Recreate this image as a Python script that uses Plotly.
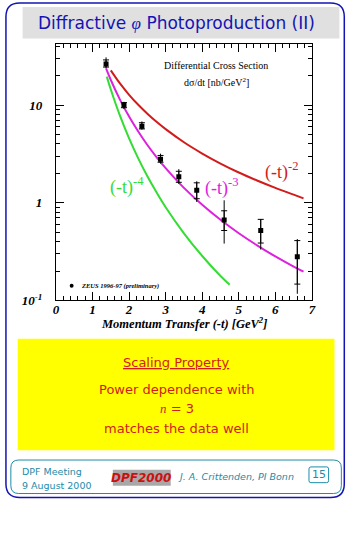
import plotly.graph_objects as go

W, H = 363, 535

# ---- data ----
t_data = [1.37, 1.86, 2.35, 2.86, 3.36, 3.85, 4.60, 5.60, 6.60]
xsec = [26.3, 10.0, 6.06, 2.79, 1.85, 1.34, 0.667, 0.52, 0.28]
tot_hi = [30.8, 10.8, 6.8, 3.18, 2.21, 1.66, 1.06, 0.676, 0.425]
tot_lo = [23.8, 9.1, 5.6, 2.52, 1.56, 1.02, 0.382, 0.332, 0.117]
stat_hi = [29.0, 10.6, 6.6, 3.05, 2.10, 1.60, 0.828, 0.676, 0.41]
stat_lo = [24.5, 9.4, 5.7, 2.60, 1.62, 1.10, 0.52, 0.387, 0.147]

t_n2 = [1.5, 1.75, 2.0, 2.25, 2.5, 2.75, 3.0, 3.5, 4.0, 4.5, 5.0, 5.5, 6.0, 6.5, 6.77]
y_n2 = [22.67, 16.65, 12.75, 10.07, 8.16, 6.74, 5.67, 4.16, 3.19, 2.52, 2.04, 1.69, 1.42, 1.21, 1.11]
t_n3 = [1.37, 1.5, 1.75, 2.0, 2.25, 2.5, 2.75, 3.0, 3.5, 4.0, 4.5, 5.0, 5.5, 6.0, 6.5, 6.77]
y_n3 = [23.72, 18.07, 11.38, 7.63, 5.36, 3.90, 2.93, 2.26, 1.42, 0.953, 0.669, 0.488, 0.367, 0.282, 0.222, 0.197]
t_n4 = [1.39, 1.5, 1.75, 2.0, 2.25, 2.5, 2.75, 3.0, 3.5, 4.0, 4.5, 4.75]
y_n4 = [19.55, 14.42, 7.78, 4.56, 2.85, 1.87, 1.28, 0.901, 0.487, 0.285, 0.178, 0.145]

y_tickvals = [0.1, 1, 10]
y_ticktext = ["10<sup>-1</sup>", "1", "10"]
y_minor = [0.2, 0.3, 0.4, 0.5, 0.6, 0.7, 0.8, 0.9, 2, 3, 4, 5, 6, 7, 8, 9, 20, 30, 40]

def px(x):
    return x / W

def py(y):
    return 1 - y / H

def rrect(x0, y0, x1, y1, r):
    def P(x, y):
        return f"{px(x):.5f},{py(y):.5f}"
    return (f"M {P(x0 + r, y0)} L {P(x1 - r, y0)} Q {P(x1, y0)} {P(x1, y0 + r)} "
            f"L {P(x1, y1 - r)} Q {P(x1, y1)} {P(x1 - r, y1)} "
            f"L {P(x0 + r, y1)} Q {P(x0, y1)} {P(x0, y1 - r)} "
            f"L {P(x0, y0 + r)} Q {P(x0, y0)} {P(x0 + r, y0)} Z")

RED = "#d21c1c"
MAG = "#dd22dd"
GRN = "#33dd33"
TEAL = "#1c8ca8"
BLUE = "#1414b4"
SERIF = "Liberation Serif"
SANS = "DejaVu Sans"

fig = go.Figure()

fig.add_trace(go.Scatter(x=t_n2, y=y_n2, mode="lines", line=dict(color=RED, width=2, shape="spline"),
                         showlegend=False, hoverinfo="skip"))
fig.add_trace(go.Scatter(x=t_n3, y=y_n3, mode="lines", line=dict(color=MAG, width=2, shape="spline"),
                         showlegend=False, hoverinfo="skip"))
fig.add_trace(go.Scatter(x=t_n4, y=y_n4, mode="lines", line=dict(color=GRN, width=2, shape="spline"),
                         showlegend=False, hoverinfo="skip"))

fig.add_trace(go.Scatter(
    x=t_data, y=xsec, mode="markers",
    marker=dict(size=1, color="black"),
    error_y=dict(type="data", symmetric=False,
                 array=[h - v for h, v in zip(stat_hi, xsec)],
                 arrayminus=[v - l for l, v in zip(stat_lo, xsec)],
                 color="black", thickness=1, width=3),
    showlegend=False, hoverinfo="skip"))
fig.add_trace(go.Scatter(
    x=t_data, y=xsec, mode="markers",
    marker=dict(size=5, color="black", symbol="square"),
    error_y=dict(type="data", symmetric=False,
                 array=[h - v for h, v in zip(tot_hi, xsec)],
                 arrayminus=[v - l for l, v in zip(tot_lo, xsec)],
                 color="black", thickness=1, width=0),
    showlegend=False))

tickfont = dict(family=SERIF, size=13, color="black", weight="bold", style="italic")

fig.update_layout(
    width=W, height=H,
    margin=dict(l=0, r=0, t=0, b=0),
    paper_bgcolor="white", plot_bgcolor="white",
    showlegend=False,
    xaxis=dict(domain=[px(54), px(315)], range=[0, 7], tickmode="linear", tick0=0, dtick=1,
               ticks="inside", ticklen=8, tickwidth=1, tickcolor="black",
               showline=True, linecolor="black", linewidth=1, mirror="ticks",
               showgrid=False, zeroline=False, tickfont=tickfont, ticklabelstandoff=-3,
               minor=dict(dtick=0.2, ticks="inside", ticklen=4, tickcolor="black", showgrid=False)),
    yaxis=dict(domain=[py(305), py(45)], type="log", range=[-1, 1.622],
               tickmode="array", tickvals=y_tickvals, ticktext=y_ticktext,
               ticks="inside", ticklen=8, tickwidth=1, tickcolor="black",
               showline=True, linecolor="black", linewidth=1, mirror="ticks",
               showgrid=False, zeroline=False, tickfont=tickfont, ticklabelstandoff=10,
               minor=dict(tickmode="array", tickvals=y_minor, ticks="inside", ticklen=4,
                          tickcolor="black", showgrid=False)),
)

shapes = []
shapes.append(dict(type="path", xref="paper", yref="paper", path=rrect(3, 3, 348, 505, 14),
                   line=dict(color=BLUE, width=1.5), fillcolor="rgba(0,0,0,0)", layer="below"))
shapes.append(dict(type="rect", xref="paper", yref="paper", x0=px(20), x1=px(343), y0=py(39), y1=py(7),
                   line=dict(width=0), fillcolor="#e0e0e0", layer="below"))
shapes.append(dict(type="rect", xref="paper", yref="paper", x0=px(15), x1=px(338), y0=py(457), y1=py(344),
                   line=dict(width=0), fillcolor="#ffff00", layer="below"))
shapes.append(dict(type="path", xref="paper", yref="paper", path=rrect(8, 467, 345, 501, 8),
                   line=dict(color=TEAL, width=1), fillcolor="rgba(0,0,0,0)", layer="below"))
shapes.append(dict(type="path", xref="paper", yref="paper", path=rrect(312, 474, 332, 490, 2),
                   line=dict(color=TEAL, width=1), fillcolor="rgba(0,0,0,0)", layer="below"))
shapes.append(dict(type="rect", xref="paper", yref="paper", x0=px(112), x1=px(171), y0=py(493), y1=py(477),
                   line=dict(width=0), fillcolor="#a8a8a8", layer="below"))
shapes.append(dict(type="circle", xref="paper", yref="paper", x0=px(68), x1=px(72), y0=py(292), y1=py(288),
                   line=dict(width=0), fillcolor="black"))
fig.update_layout(shapes=shapes)

def ann(x, y, text, size, color="black", family=SANS, xanchor="center", **kw):
    font = dict(size=size, color=color, family=family)
    font.update(kw)
    fig.add_annotation(x=px(x), y=py(y), xref="paper", yref="paper", text=text, showarrow=False,
                       xanchor=xanchor, yanchor="middle", font=font)

ann(177, 23, 'Diffractive <span style="font-family:Liberation Serif;font-style:italic">φ</span> Photoproduction (II)', 17, BLUE)

ann(217, 66, "Differential Cross Section", 10, family=SERIF)
ann(218, 83, "dσ/dt [nb/GeV<sup>2</sup>]", 10, family=SERIF)

ann(284, 174, "(-t)<sup>-2</sup>", 18, RED, family=SERIF)
ann(223, 190, "(-t)<sup>-3</sup>", 18, MAG, family=SERIF)
ann(126, 189, "(-t)<sup>-4</sup>", 18, GRN, family=SERIF)

ann(78, 290, "ZEUS 1996-97 (preliminary)", 6.5, family=SERIF, xanchor="left", style="italic", weight="bold")

ann(185, 328, "Momentum Transfer (-t) [GeV<sup>2</sup>]", 12.5, family=SERIF, weight="bold", style="italic")

ann(177, 368, "<u>Scaling Property</u>", 13, RED)
ann(177, 395, "Power dependence with", 13, RED)
ann(177, 415, '<span style="font-family:Liberation Serif;font-style:italic">n</span> = 3', 13, RED)
ann(177, 435, "matches the data well", 13, RED)

ann(17, 479, "DPF Meeting", 9.5, TEAL, xanchor="left")
ann(17, 493, "9 August 2000", 9.5, TEAL, xanchor="left")
ann(141, 485, "DPF2000", 12, "#cc1010", family=SANS, weight="bold", style="italic")
ann(176, 484, "J. A. Crittenden, PI Bonn", 9.5, TEAL, xanchor="left", style="italic")
ann(322, 482, "15", 11, TEAL)

fig.write_html("out.html",
               config={"displayModeBar": False},
               post_script="document.body.style.margin='0';document.body.style.overflow='hidden';")
